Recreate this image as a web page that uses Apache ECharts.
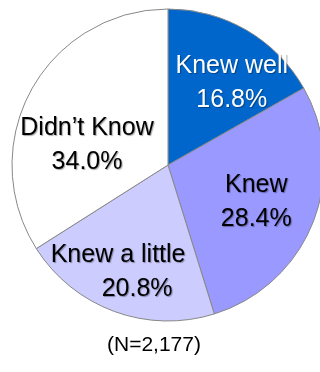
<!DOCTYPE html>
<html>
<head>
<meta charset="utf-8">
<script src="https://cdn.jsdelivr.net/npm/echarts@6/dist/echarts.min.js"></script>
<style>
html,body{margin:0;padding:0;background:#fff;}
#c{width:320px;height:372px;}
</style>
</head>
<body>
<div id="c"></div>
<script>
var categories = ['Knew well', 'Knew', 'Knew a little', 'Didn\u2019t Know'];
var values = [16.8, 28.4, 20.8, 34.0];
var subtitle = '(N=2,177)';

var colors = ['#0066CC', '#9999FF', '#CCCCFF', '#FFFFFF'];
var labelColors = ['#FFFFFF', '#000000', '#000000', '#000000'];
var labelShift = [[23, -12], [13, 7], [-22, 31], [-10, 19]];
var FONT = '"Liberation Sans", Arial, sans-serif';

var chart = echarts.init(document.getElementById('c'), null, {renderer: 'canvas'});

var data = categories.map(function (name, i) {
  var pct = values[i].toFixed(1) + '%';
  var isLittle = i === 2;
  return {
    name: name,
    value: values[i],
    itemStyle: {color: colors[i]},
    label: {
      color: labelColors[i],
      formatter: isLittle ? '{a|' + name + '}\n{p|' + pct + '}' : '{a|' + name + '}\n{a|' + pct + '}',
      rich: {
        a: {color: labelColors[i], fontSize: 25, lineHeight: 34, fontFamily: FONT},
        p: {color: labelColors[i], fontSize: 25, lineHeight: 34, fontFamily: FONT, padding: [0, 0, 0, 38]}
      }
    }
  };
});

chart.setOption({
  animation: false,
  backgroundColor: '#ffffff',
  title: {
    text: subtitle,
    left: 107,
    top: 335,
    padding: 0,
    textStyle: {fontSize: 21, fontWeight: 'normal', color: '#000', fontFamily: FONT}
  },
  series: [{
    type: 'pie',
    center: [168, 165],
    radius: [0, 156],
    startAngle: 90,
    clockwise: true,
    avoidLabelOverlap: false,
    itemStyle: {borderColor: '#888888', borderWidth: 1},
    label: {
      show: true,
      position: 'inside',
      fontSize: 25,
      lineHeight: 34,
      fontFamily: FONT,
      textShadowColor: 'rgba(0,0,0,0.35)',
      textShadowBlur: 1,
      textShadowOffsetX: 1,
      textShadowOffsetY: 1
    },
    labelLine: {show: false},
    emphasis: {disabled: true},
    labelLayout: function (params) {
      var s = labelShift[params.dataIndex];
      return {dx: s[0], dy: s[1]};
    },
    data: data
  }]
});
</script>
</body>
</html>
